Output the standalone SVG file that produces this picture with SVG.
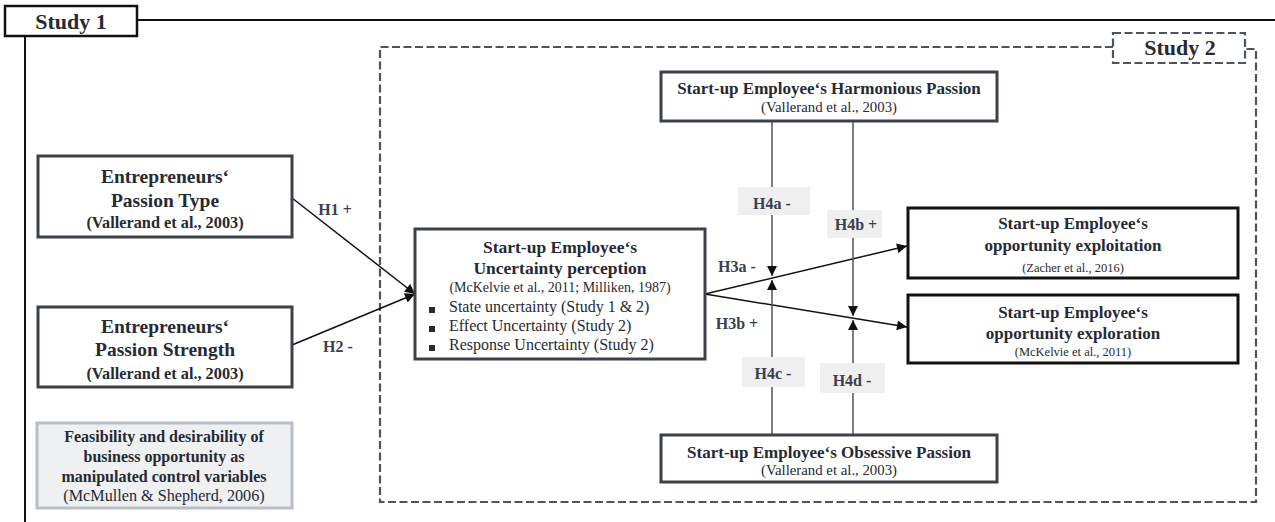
<svg xmlns="http://www.w3.org/2000/svg" width="1275" height="522" viewBox="0 0 1275 522">
  <style>
    text { font-family: "Liberation Serif", "Times New Roman", serif; fill: #262a33; text-anchor: middle; }
    .b { font-weight: bold; }
    .start { text-anchor: start; }
    .box { fill: #ffffff; stroke: #3c4248; stroke-width: 3; }
    .boxk { fill: #ffffff; stroke: #111111; stroke-width: 3; }
    .ctrl { fill: #eef0f2; stroke: #b9bfc5; stroke-width: 3; }
    .dash { fill: none; stroke: #4c545c; stroke-width: 2.2; stroke-dasharray: 8 3.5; }
    .conn { fill: none; stroke: #111111; stroke-width: 1.5; }
    .mod { fill: none; stroke: #505458; stroke-width: 1.5; }
    .lblbg { fill: #efefef; }
    .lbl { font-weight: bold; font-size: 16px; fill: #3a4050; }
  </style>
  <defs>
    <marker id="arrow" viewBox="0 0 10 10" refX="10" refY="5" markerWidth="11" markerHeight="10" markerUnits="userSpaceOnUse" orient="auto">
      <path d="M0,0 L10,5 L0,10 z" fill="#111111"/>
    </marker>
  </defs>

  <!-- Study 1 frame -->
  <g id="study1">
    <line x1="137" y1="20" x2="1275" y2="20" stroke="#111" stroke-width="2"/>
    <line x1="25" y1="36" x2="25" y2="522" stroke="#111" stroke-width="2"/>
    <rect x="5" y="6" width="132" height="30" fill="#fff" stroke="#111" stroke-width="2.5"/>
    <text x="71" y="29" class="b" font-size="22">Study 1</text>
  </g>

  <!-- Study 2 frame -->
  <g id="study2">
    <path class="dash" d="M1113,47 H380 V502 H1256 V49 H1246"/>
    <rect class="dash" x="1113" y="33" width="132" height="30"/>
    <text x="1180" y="55" class="b" font-size="22" fill="#333">Study 2</text>
  </g>

  <!-- Connectors -->
  <g id="connectors">
    <line class="conn" x1="292" y1="198" x2="415" y2="294" marker-end="url(#arrow)"/>
    <line class="conn" x1="292" y1="345" x2="415" y2="294" marker-end="url(#arrow)"/>
    <line class="conn" x1="705" y1="294" x2="907" y2="246" marker-end="url(#arrow)"/>
    <line class="conn" x1="705" y1="294" x2="907" y2="327" marker-end="url(#arrow)"/>
    <line class="mod" x1="772" y1="121" x2="772" y2="276" marker-end="url(#arrow)"/>
    <line class="mod" x1="772" y1="435" x2="772" y2="280" marker-end="url(#arrow)"/>
    <line class="mod" x1="853" y1="121" x2="853" y2="316" marker-end="url(#arrow)"/>
    <line class="mod" x1="853" y1="435" x2="853" y2="320" marker-end="url(#arrow)"/>
  </g>

  <!-- Hypothesis labels -->
  <g id="labels">
    <text x="335" y="215" class="lbl">H1 +</text>
    <text x="338" y="352" class="lbl">H2 -</text>
    <text x="737" y="272" class="lbl">H3a -</text>
    <text x="737" y="329" class="lbl">H3b +</text>
    <rect class="lblbg" x="738" y="187" width="72" height="28"/>
    <text x="772" y="209" class="lbl">H4a -</text>
    <rect class="lblbg" x="827" y="210" width="55" height="28"/>
    <text x="856" y="230" class="lbl">H4b +</text>
    <rect class="lblbg" x="742" y="357" width="63" height="30"/>
    <text x="773" y="379" class="lbl">H4c -</text>
    <rect class="lblbg" x="820" y="363" width="65" height="30"/>
    <text x="852" y="386" class="lbl">H4d -</text>
  </g>

  <g id="passion-type">
    <rect class="box" x="38" y="156" width="254" height="81"/>
    <text x="165" y="183" class="b" font-size="19.5">Entrepreneurs‘</text>
    <text x="165" y="207" class="b" font-size="19.5">Passion Type</text>
    <text x="165" y="228" class="b" font-size="16.3">(Vallerand et al., 2003)</text>
  </g>

  <g id="passion-strength">
    <rect class="box" x="38" y="307" width="254" height="80"/>
    <text x="165" y="333" class="b" font-size="19.5">Entrepreneurs‘</text>
    <text x="165" y="356" class="b" font-size="19.5">Passion Strength</text>
    <text x="165" y="379" class="b" font-size="16.3">(Vallerand et al., 2003)</text>
  </g>

  <g id="controls">
    <rect class="ctrl" x="37" y="423" width="255" height="85"/>
    <text x="164" y="442" class="b" font-size="16">Feasibility and desirability of</text>
    <text x="164" y="462" class="b" font-size="16">business opportunity as</text>
    <text x="164" y="482" class="b" font-size="16">manipulated control variables</text>
    <text x="164" y="501" font-size="16.2">(McMullen &amp; Shepherd, 2006)</text>
  </g>

  <g id="uncertainty">
    <rect class="box" x="415" y="229" width="290" height="130"/>
    <text x="560" y="253" class="b" font-size="17.5">Start-up Employee‘s</text>
    <text x="560" y="274" class="b" font-size="17.5">Uncertainty perception</text>
    <text x="560" y="292" font-size="14">(McKelvie et al., 2011; Milliken, 1987)</text>
    <rect x="429" y="307" width="6" height="6" fill="#262a33"/>
    <rect x="429" y="326" width="6" height="6" fill="#262a33"/>
    <rect x="429" y="345" width="6" height="6" fill="#262a33"/>
    <text x="449" y="312" font-size="16" class="start">State uncertainty (Study 1 &amp; 2)</text>
    <text x="449" y="331" font-size="16" class="start">Effect Uncertainty (Study 2)</text>
    <text x="449" y="350" font-size="16" class="start">Response Uncertainty (Study 2)</text>
  </g>

  <g id="harmonious">
    <rect class="box" x="661" y="72" width="336" height="49"/>
    <text x="829" y="94" class="b" font-size="17">Start-up Employee‘s Harmonious Passion</text>
    <text x="829" y="112" font-size="14.8">(Vallerand et al., 2003)</text>
  </g>

  <g id="obsessive">
    <rect class="box" x="661" y="435" width="336" height="47"/>
    <text x="829" y="458" class="b" font-size="17">Start-up Employee‘s Obsessive Passion</text>
    <text x="829" y="475" font-size="14.8">(Vallerand et al., 2003)</text>
  </g>

  <g id="exploitation">
    <rect class="boxk" x="908" y="208" width="330" height="70"/>
    <text x="1073" y="229" class="b" font-size="17">Start-up Employee‘s</text>
    <text x="1073" y="251" class="b" font-size="17">opportunity exploitation</text>
    <text x="1073" y="272" font-size="12.5">(Zacher et al., 2016)</text>
  </g>

  <g id="exploration">
    <rect class="boxk" x="908" y="295" width="330" height="68"/>
    <text x="1073" y="318" class="b" font-size="17">Start-up Employee‘s</text>
    <text x="1073" y="339" class="b" font-size="17">opportunity exploration</text>
    <text x="1073" y="356" font-size="12.5">(McKelvie et al., 2011)</text>
  </g>
</svg>
